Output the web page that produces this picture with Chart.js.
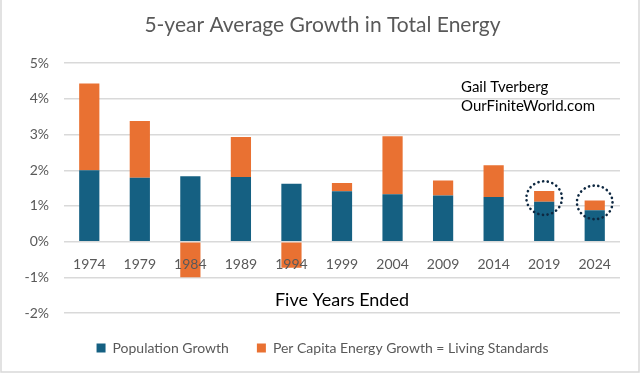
<!DOCTYPE html>
<html>
<head>
<meta charset="utf-8">
<script src="https://cdn.jsdelivr.net/npm/chart.js@4.4.1/dist/chart.umd.min.js"></script>
<style>
  html, body { margin: 0; padding: 0; background: #fff; }
  #wrap { width: 640px; height: 373px; position: relative; }
</style>
</head>
<body>
<div id="wrap"><canvas id="chart"></canvas></div>
<script>
(function () {
  'use strict';

  var YEARS = ['1974', '1979', '1984', '1989', '1994', '1999', '2004', '2009', '2014', '2019', '2024'];
  var POPULATION_GROWTH = [2.00, 1.79, 1.83, 1.81, 1.62, 1.41, 1.33, 1.29, 1.25, 1.12, 0.88];
  var PER_CAPITA_GROWTH = [2.43, 1.59, -1.00, 1.12, -0.73, 0.23, 1.62, 0.42, 0.89, 0.30, 0.27];
  var Y_MIN = -2;
  var Y_MAX = 5;
  var CIRCLED_YEARS = ['2019', '2024'];
  var CIRCLED_VALUES = [1.22, 1.10];
  var NOTE_LINES = ['Gail Tverberg', 'OurFiniteWorld.com'];

  var FONT = "Lato, 'Noto Sans', sans-serif";
  var GREY = '#595959';
  var GRID = '#d9d9d9';

  var extras = {
    id: 'extras',
    afterDraw: function (chart) {
      var ctx = chart.ctx;
      var x = chart.scales.x;
      var y = chart.scales.y;
      ctx.save();

      // dotted circles round the last two bars
      ctx.strokeStyle = '#0e2841';
      ctx.lineWidth = 2.6;
      ctx.lineCap = 'round';
      ctx.setLineDash([0.1, 4.6]);
      CIRCLED_YEARS.forEach(function (yr, i) {
        var cx = x.getPixelForValue(YEARS.indexOf(yr));
        var cy = y.getPixelForValue(CIRCLED_VALUES[i]);
        ctx.beginPath();
        ctx.ellipse(cx, cy, 17.8, 16.8, 0, 0, Math.PI * 2);
        ctx.stroke();
      });
      ctx.setLineDash([]);

      // author note
      ctx.fillStyle = '#000';
      ctx.font = '15px ' + FONT;
      ctx.textBaseline = 'alphabetic';
      ctx.textAlign = 'left';
      NOTE_LINES.forEach(function (t, i) {
        ctx.fillText(t, 461, 92 + i * 19.3);
      });

      // chart frame
      ctx.strokeStyle = GRID;
      ctx.lineWidth = 1.5;
      ctx.strokeRect(1, -2, 638, 374);
      ctx.restore();
    }
  };

  new Chart(document.getElementById('chart'), {
    type: 'bar',
    data: {
      labels: YEARS,
      datasets: [
        { label: 'Population Growth', data: POPULATION_GROWTH, backgroundColor: '#156082' },
        { label: 'Per Capita Energy Growth = Living Standards', data: PER_CAPITA_GROWTH, backgroundColor: '#e97132' }
      ]
    },
    options: {
      responsive: true,
      maintainAspectRatio: false,
      animation: false,
      datasets: { bar: { barPercentage: 0.4, categoryPercentage: 1 } },
      layout: { padding: { left: 25, right: 20, top: 0, bottom: 8 } },
      plugins: {
        tooltip: { enabled: false },
        title: {
          display: true,
          text: '5-year Average Growth in Total Energy',
          color: GREY,
          font: { family: FONT, size: 21, weight: 'normal' },
          padding: { top: 13, bottom: 25 }
        },
        legend: {
          position: 'bottom',
          labels: {
            boxWidth: 9,
            boxHeight: 9,
            padding: 28,
            color: GREY,
            font: { family: FONT, size: 14 }
          }
        }
      },
      scales: {
        x: {
          stacked: true,
          position: { y: 0 },
          grid: { display: false },
          border: { display: false },
          ticks: { color: GREY, font: { family: FONT, size: 14 }, padding: 6, z: 1 },
          title: {
            display: true,
            text: 'Five Years Ended',
            color: '#000',
            font: { family: FONT, size: 18 },
            padding: { top: 11, bottom: 0 }
          }
        },
        y: {
          stacked: true,
          min: Y_MIN,
          max: Y_MAX,
          afterFit: function (scale) { scale.width = 39; },
          grid: { color: GRID, lineWidth: 1.5, drawTicks: false },
          border: { display: false },
          ticks: {
            stepSize: 1,
            padding: 15,
            color: GREY,
            font: { family: FONT, size: 14 },
            callback: function (v) { return v + '%'; }
          }
        }
      }
    },
    plugins: [extras]
  });
})();
</script>
</body>
</html>
